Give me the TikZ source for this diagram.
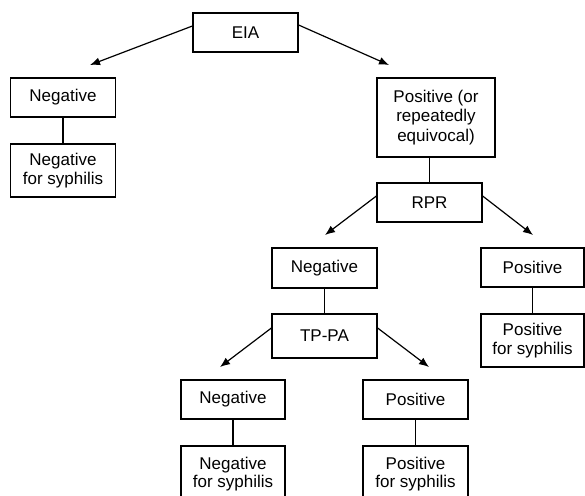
\documentclass[tikz,border=0pt]{standalone}
\usepackage{fontspec}
\setmainfont{Liberation Sans}
\usetikzlibrary{arrows.meta}
\begin{document}
\begin{tikzpicture}[x=1pt,y=-1pt,
  box/.style={draw,line width=1.2pt,inner sep=0pt,align=center,
    font=\fontsize{17}{19.5}\selectfont,minimum width=105pt,minimum height=39pt},
  link/.style={line width=1.2pt},
  arr/.style={line width=1.2pt,-{Latex[length=10pt,width=8pt]}}]
\useasboundingbox (0,0) rectangle (585,495);
\clip (0,0) rectangle (585,495);
\node[box] (eia) at (245.5,32.5) {EIA};
\node[box] (neg1) at (63,97.5) {Negative};
\node[box,minimum height=53pt] (negs1) at (63,170.5) {Negative\\for syphilis};
\node[box,minimum width=118pt,minimum height=79pt] (pos1) at (436,117.5) {Positive (or\\repeatedly\\equivocal)};
\node[box] (rpr) at (429.5,202.5) {RPR};
\node[box,minimum height=40pt] (neg2) at (324.5,268) {Negative};
\node[box,minimum height=44pt] (tppa) at (324.5,336) {TP-PA};
\node[box,minimum width=103pt] (pos2) at (532.5,267.5) {Positive};
\node[box,minimum width=103pt,minimum height=53pt] (poss2) at (532.5,340.5) {Positive\\for syphilis};
\node[box,minimum width=104pt] (neg3) at (233,399.5) {Negative};
\node[box,minimum width=104pt,minimum height=56pt] (negs3) at (233,474) {Negative\\[-1.5pt]for syphilis};
\node[box] (pos3) at (415.5,399.5) {Positive};
\node[box,minimum height=56pt] (poss3) at (415.5,474) {Positive\\[-1.5pt]for syphilis};
\coordinate (t1) at (90,65);
\coordinate (t2) at (389,65);
\coordinate (t3) at (325,235);
\coordinate (t4) at (533,235);
\coordinate (t5) at (220,367);
\coordinate (t6) at (429,367);
\draw[arr] ([yshift=6.5pt]eia.west) -- (t1);
\draw[arr] ([yshift=7.5pt]eia.east) -- (t2);
\draw[arr] ([yshift=6.5pt]rpr.west) -- (t3);
\draw[arr] ([yshift=6.5pt]rpr.east) -- (t4);
\draw[arr] ([yshift=8pt]tppa.west) -- (t5);
\draw[arr] ([yshift=8pt]tppa.east) -- (t6);
\draw[link] (neg1.south) -- (negs1.north);
\draw[link] (rpr.north) -- (rpr.north |- pos1.south);
\draw[link] (neg2.south) -- (tppa.north);
\draw[link] (pos2.south) -- (poss2.north);
\draw[link] (neg3.south) -- (negs3.north);
\draw[link] (pos3.south) -- (poss3.north);
\end{tikzpicture}
\end{document}
